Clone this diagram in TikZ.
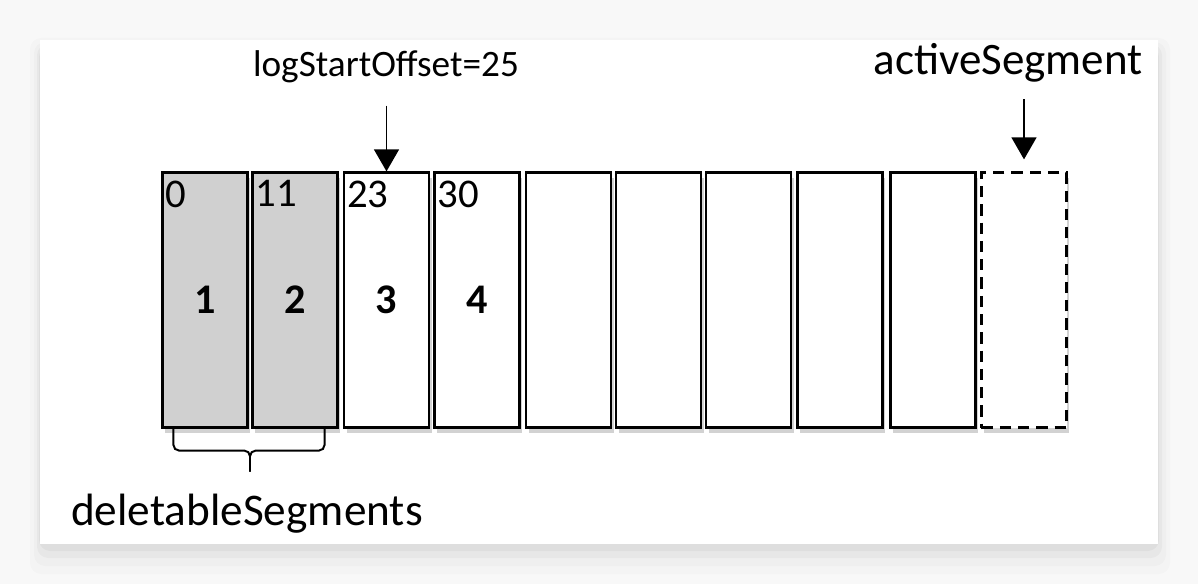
\documentclass[tikz,border=0pt]{standalone}
\usepackage{fontspec}
\setmainfont{Carlito}
\usetikzlibrary{positioning,calc,arrows.meta,shadows}

\definecolor{pageBg}{HTML}{F8F8F8}
\definecolor{segGray}{HTML}{D0D0D0}

\tikzset{
  seg/.style={draw, line width=1.5pt, fill=white, inner sep=0pt,
    minimum width=2.125cm, minimum height=6.375cm,
    drop shadow={shadow xshift=2pt, shadow yshift=-4pt, opacity=0.35}},
  oldseg/.style={seg, fill=segGray},
  actseg/.style={seg, dash pattern=on 8pt off 5pt},
  offs/.style={anchor=north west, inner sep=0pt, font=\fontsize{29}{34}\selectfont},
  segnum/.style={inner sep=0pt, font=\fontsize{30}{34}\selectfont\bfseries},
  lbl/.style={anchor=base, inner sep=0pt},
  ptr/.style={-{Triangle[length=0.55cm,width=0.62cm]}, line width=1.4pt},
  brace/.style={line width=1.4pt, rounded corners=4pt}
}

\begin{document}
\begin{tikzpicture}[x=0.025cm, y=-0.025cm]
        % page and card (pixel grid, y down)
        \useasboundingbox (0,0) rectangle (1198,584);
        \fill[pageBg] (0,0) rectangle (1198,584);
        \begin{scope}[black, rounded corners=8pt]
            \fill[opacity=0.015] (30,38) rectangle (1170,574);
            \fill[opacity=0.02] (34,42) rectangle (1166,566);
            \fill[opacity=0.03] (37,44) rectangle (1162,558);
            \fill[opacity=0.035] (39,46) rectangle (1159,551);
        \end{scope}
        \fill[white] (40,40) rectangle (1158,544);

        % The segments
        \node[oldseg] (s1) at (205,300) {};
        \node[oldseg] (s2) at (295,300) {};
        \node[seg] (s3) at (386.5,300) {};
        \node[seg] (s4) at (477,300) {};
        \node[seg] (s5) at (568.5,300) {};
        \node[seg] (s6) at (658.5,300) {};
        \node[seg] (s7) at (748.5,300) {};
        \node[seg] (s8) at (840,300) {};
        \node[seg] (s9) at (933,300) {};
        \node[actseg] (s10) at (1024,300) {};

        % base offsets and numbers
        \node[offs] (o1) at ($(s1.north west)+(4,9)$) {0};
        \node[offs] (o2) at ($(s2.north west)+(4,9)$) {11};
        \node[offs] (o3) at ($(s3.north west)+(4,9)$) {23};
        \node[offs] (o4) at ($(s4.north west)+(4,9)$) {30};

        \node[segnum] (n1) at (s1) {1};
        \node[segnum] (n2) at (s2) {2};
        \node[segnum] (n3) at (s3) {3};
        \node[segnum] (n4) at (s4) {4};

        % labels
        \node[lbl, font=\fontsize{26.5}{30}\selectfont] (lso) at (386,77) {logStartOffset=25};
        \node[lbl, font=\fontsize{32}{36}\selectfont] (act) at (1008,75) {activeSegment};
        \node[lbl, font=\fontsize{32.2}{36}\selectfont] (del) at (247,525) {deletableSegments};

        \draw[ptr, shorten <=0.55cm] (lso.south -| s3.north) -- (s3.north);
        \draw[ptr, shorten <=0.4cm, shorten >=0.3cm] (act.south -| s10.north) -- (s10.north);

        % brace under the deletable ones
        \coordinate (bmid) at ($(s1.south east)!0.5!(s2.south west)+(0,22)$);
        \draw[brace] ($(s1.south west)+(12,0)$) |- (bmid) -- ++(0,21);
        \draw[brace] ($(s2.south east)+(-14,0)$) |- (bmid) -- ++(0,21);

\end{tikzpicture}
\end{document}
